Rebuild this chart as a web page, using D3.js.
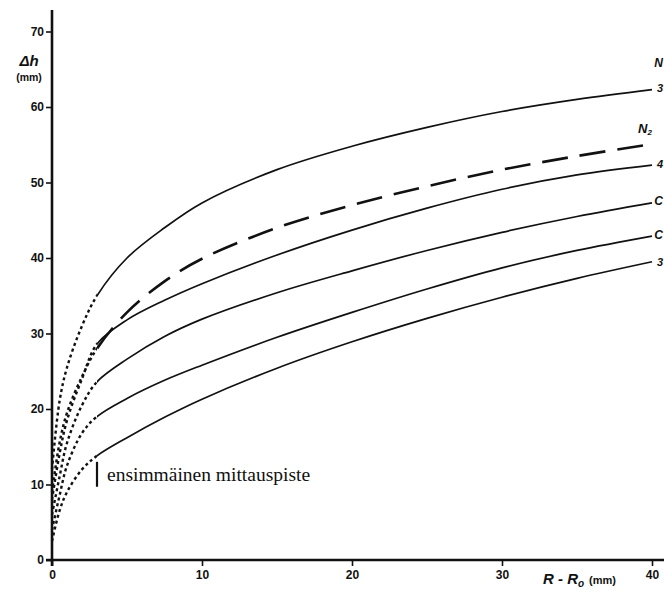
<!DOCTYPE html>
<html><head><meta charset="utf-8">
<script src="https://cdn.jsdelivr.net/npm/d3@7/dist/d3.min.js"></script>
<style>
html,body{margin:0;padding:0;background:#fff;overflow:hidden}
svg{display:block}
.tick text{font-family:"Liberation Sans",Arial,sans-serif;font-weight:bold;font-size:12px;fill:#111}
</style></head><body>
<svg id="c" width="664" height="596"></svg>
<script>
// x values (R - R0, mm)
const xVals = [0, 0.5, 1, 2, 3, 5, 7.5, 10, 15, 20, 25, 30, 35, 40];
// Δh (mm) for each curve, top to bottom
const curveA  = [12, 21, 25.5, 31, 35, 40, 44, 47.3, 51.7, 54.8, 57.3, 59.4, 61, 62.3];
const curveN2 = [9, 15.5, 19.5, 24.3, 28, 32.8, 36.9, 39.9, 44.0, 47.0, 49.5, 51.7, 53.5, 55.1];
const curveB  = [8, 14, 18.5, 24, 28.6, 31.8, 34.4, 36.6, 40.4, 43.7, 46.6, 49.1, 51, 52.3];
const curveC  = [6, 11, 15.5, 20.5, 23.6, 26.6, 29.6, 31.9, 35.4, 38.3, 41, 43.4, 45.5, 47.3];
const curveD  = [4, 8.5, 12.5, 16.8, 19, 21.4, 23.8, 25.8, 29.5, 32.8, 35.9, 38.7, 41, 42.9];
const curveE  = [2.5, 6.5, 9, 12, 13.8, 16.2, 18.9, 21.3, 25.4, 28.9, 32, 34.8, 37.3, 39.5];
const seriesNames = ["N", "3", "N", "4", "C", "C", "3"];
const firstPointX = 3;
const xTicks = [0, 10, 20, 30, 40];
const yTicks = [0, 10, 20, 30, 40, 50, 60, 70];

const svg = d3.select("#c");
const x = d3.scaleLinear().domain([0, 40]).range([52, 652]);
const y = d3.scaleLinear().domain([0, 70]).range([560, 31.5]);

// clip regions: dotted before first measuring point, drawn after
const defs = svg.append("defs");
defs.append("clipPath").attr("id", "clipL").append("rect")
  .attr("x", 0).attr("y", 0).attr("width", x(firstPointX)).attr("height", 596);
defs.append("clipPath").attr("id", "clipR").append("rect")
  .attr("x", x(firstPointX)).attr("y", 0).attr("width", 664).attr("height", 596);

// axes
const yAxis = d3.axisLeft(y).tickValues(yTicks).tickSize(6).tickPadding(2).tickFormat(d3.format("d"));
const gy = svg.append("g").attr("transform", "translate(52,0)").call(yAxis);
gy.select(".domain").remove();
gy.selectAll(".tick line").attr("stroke", "#111").attr("stroke-width", 1.6);
svg.append("line").attr("x1", 52).attr("x2", 52).attr("y1", 10).attr("y2", 566)
  .attr("stroke", "#111").attr("stroke-width", 2.6);

const xAxis = d3.axisBottom(x).tickValues(xTicks).tickSize(6).tickPadding(4).tickFormat(d3.format("d"));
const gx = svg.append("g").attr("transform", "translate(0,560)").call(xAxis);
gx.select(".domain").remove();
gx.selectAll(".tick line").attr("stroke", "#111").attr("stroke-width", 1.6);
svg.append("line").attr("x1", 46).attr("x2", 664).attr("y1", 560).attr("y2", 560)
  .attr("stroke", "#111").attr("stroke-width", 2.6);

// axis titles
svg.append("text").attr("x", 29).attr("y", 66).attr("text-anchor", "middle")
  .attr("font-family", "Liberation Sans, Arial, sans-serif").attr("font-weight", "bold")
  .attr("font-style", "italic").attr("font-size", 15).attr("fill", "#111").text("Δh");
svg.append("text").attr("x", 29).attr("y", 81).attr("text-anchor", "middle")
  .attr("font-family", "Liberation Sans, Arial, sans-serif").attr("font-weight", "bold")
  .attr("font-size", 10.5).attr("fill", "#111").text("(mm)");

const xt = svg.append("text").attr("x", 543).attr("y", 584)
  .attr("font-family", "Liberation Sans, Arial, sans-serif").attr("font-weight", "bold")
  .attr("fill", "#111");
xt.append("tspan").attr("font-style", "italic").attr("font-size", 15).text("R - R");
xt.append("tspan").attr("font-style", "italic").attr("font-size", 10).attr("dy", 3).text("o");
xt.append("tspan").attr("font-size", 11).attr("dy", -3).attr("dx", 5).text("(mm)");

// curves
const line = d3.line().x(d => x(d[0])).y(d => y(d[1])).curve(d3.curveCatmullRom.alpha(0.5));
const allCurves = [curveA, curveN2, curveB, curveC, curveD, curveE];
allCurves.forEach((c, i) => {
  const pts = xVals.map((xv, j) => [xv, c[j]]);
  const dPath = line(pts);
  svg.append("path").attr("d", dPath).attr("clip-path", "url(#clipL)")
    .attr("fill", "none").attr("stroke", "#111")
    .attr("stroke-width", 2.4).attr("stroke-dasharray", "3,3");
  svg.append("path").attr("d", dPath).attr("clip-path", "url(#clipR)")
    .attr("fill", "none").attr("stroke", "#111")
    .attr("stroke-width", i === 1 ? 2.6 : 1.7)
    .attr("stroke-dasharray", i === 1 ? "26,12" : null);
});

// right-edge curve labels
const labelFont = "Liberation Sans, Arial, sans-serif";
const lbl = (yy, t, size) => svg.append("text").attr("x", 663).attr("y", yy)
  .attr("text-anchor", "end")
  .attr("font-family", labelFont).attr("font-weight", "bold").attr("font-style", "italic")
  .attr("font-size", size || 12).attr("fill", "#111").text(t);
lbl(67, seriesNames[0], 12);
lbl(92, seriesNames[1], 11);
const n2 = svg.append("text").attr("x", 638).attr("y", 133).attr("font-family", labelFont)
  .attr("font-weight", "bold").attr("font-style", "italic").attr("fill", "#111");
n2.append("tspan").attr("font-size", 13).text(seriesNames[2]);
n2.append("tspan").attr("font-size", 8).attr("dy", 2).text("2");
lbl(168, seriesNames[3], 11);
lbl(205, seriesNames[4], 12);
lbl(239, seriesNames[5], 12);
lbl(266, seriesNames[6], 11);

// first measurement point annotation
svg.append("line").attr("x1", x(firstPointX)).attr("x2", x(firstPointX))
  .attr("y1", y(13)).attr("y2", y(9.7)).attr("stroke", "#111").attr("stroke-width", 2.2);
svg.append("text").attr("x", 107).attr("y", 481)
  .attr("font-family", "Liberation Serif, 'DejaVu Serif', serif").attr("font-size", 19.5)
  .attr("fill", "#111").text("ensimmäinen mittauspiste");
</script>
</body></html>
